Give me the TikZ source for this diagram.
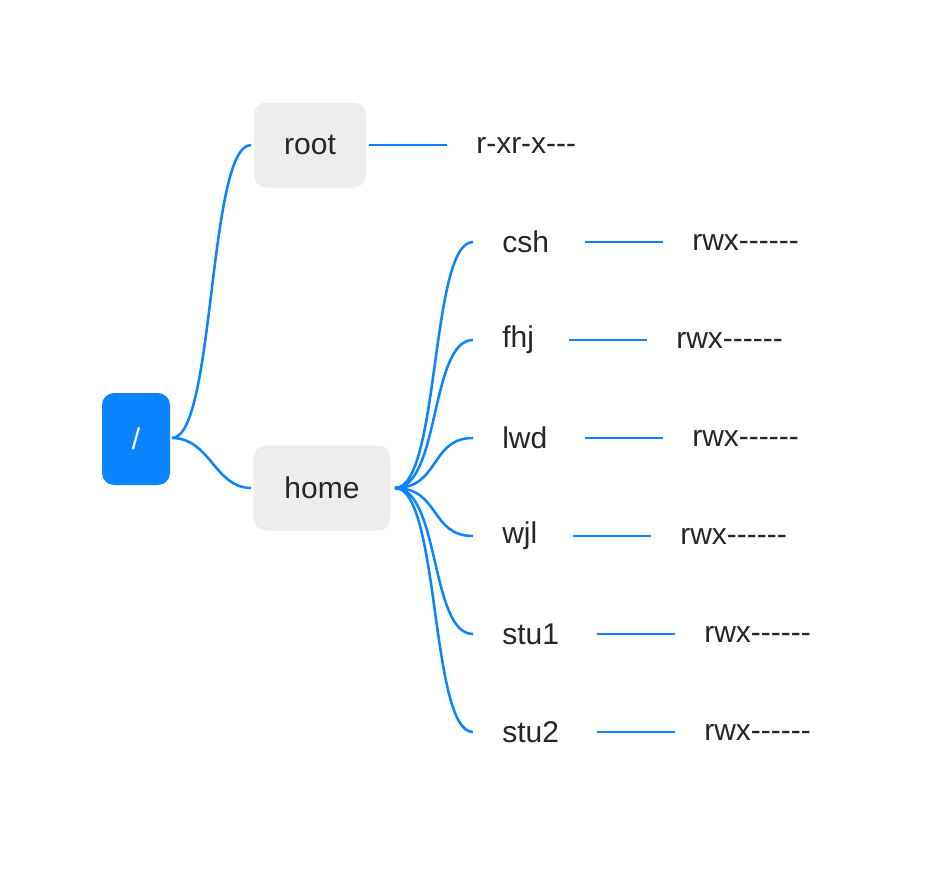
\documentclass[tikz,border=0pt]{standalone}
\usepackage{fontspec}
\setmainfont{Liberation Sans}
\begin{document}
\begin{tikzpicture}[x=0.75pt,y=-0.75pt,
  lk/.style={draw=linkblue,line width=1.9pt},
  ft/.style={font=\fontsize{22.5pt}{26pt}\selectfont},
  box/.style={rounded corners=9pt,minimum height=85*0.75pt,inner sep=0pt,ft},
  txt/.style={anchor=west,inner sep=0pt,ft,text=black!85}]
\definecolor{linkblue}{RGB}{10,132,255}
\useasboundingbox (0,0) rectangle (950,878);
\node[box,fill=linkblue,minimum width=68*0.75pt,minimum height=92*0.75pt,text=white] (r) at (136,439) {/};
\node[box,fill=black!7,minimum width=112*0.75pt,text=black!85] (root) at (310,145) {root};
\node[box,fill=black!7,minimum width=137*0.75pt,text=black!85] (home) at (322,488) {home};
\coordinate (rs) at (172,438);
\coordinate (re) at (251,145);
\coordinate (he) at (251,488);
\draw[lk] (rs) .. controls (215,438) and (208,145) .. (re);
\draw[lk] (rs) .. controls (210,438) and (215,488) .. (he);
\coordinate (ra) at (369,145); \coordinate (rb) at (447,145);
\draw[lk] (ra) -- (rb);
\node[txt] (rp) at (476,145) {r-xr-x{-}{-}{-}};
\coordinate (hs) at (395,488);
\foreach \n/\y/\a/\p in {csh/242/585/692, fhj/340/569/676, lwd/438/585/692, wjl/536/573/680, stu1/634/597/704, stu2/732/597/704}{
  \coordinate (c\n) at (473,\y);
  \draw[lk] (hs) .. controls (440,488) and (430,\y) .. (c\n);
  \node[txt] (t\n) at (502,\y) {\n};
  \coordinate (a\n) at (\a,\y);
  \coordinate (b\n) at (\a+78,\y);
  \draw[lk] (a\n) -- (b\n);
  \node[txt] (p\n) at (\p,\y) {rwx{-}{-}{-}{-}{-}{-}};
}
\end{tikzpicture}
\end{document}
